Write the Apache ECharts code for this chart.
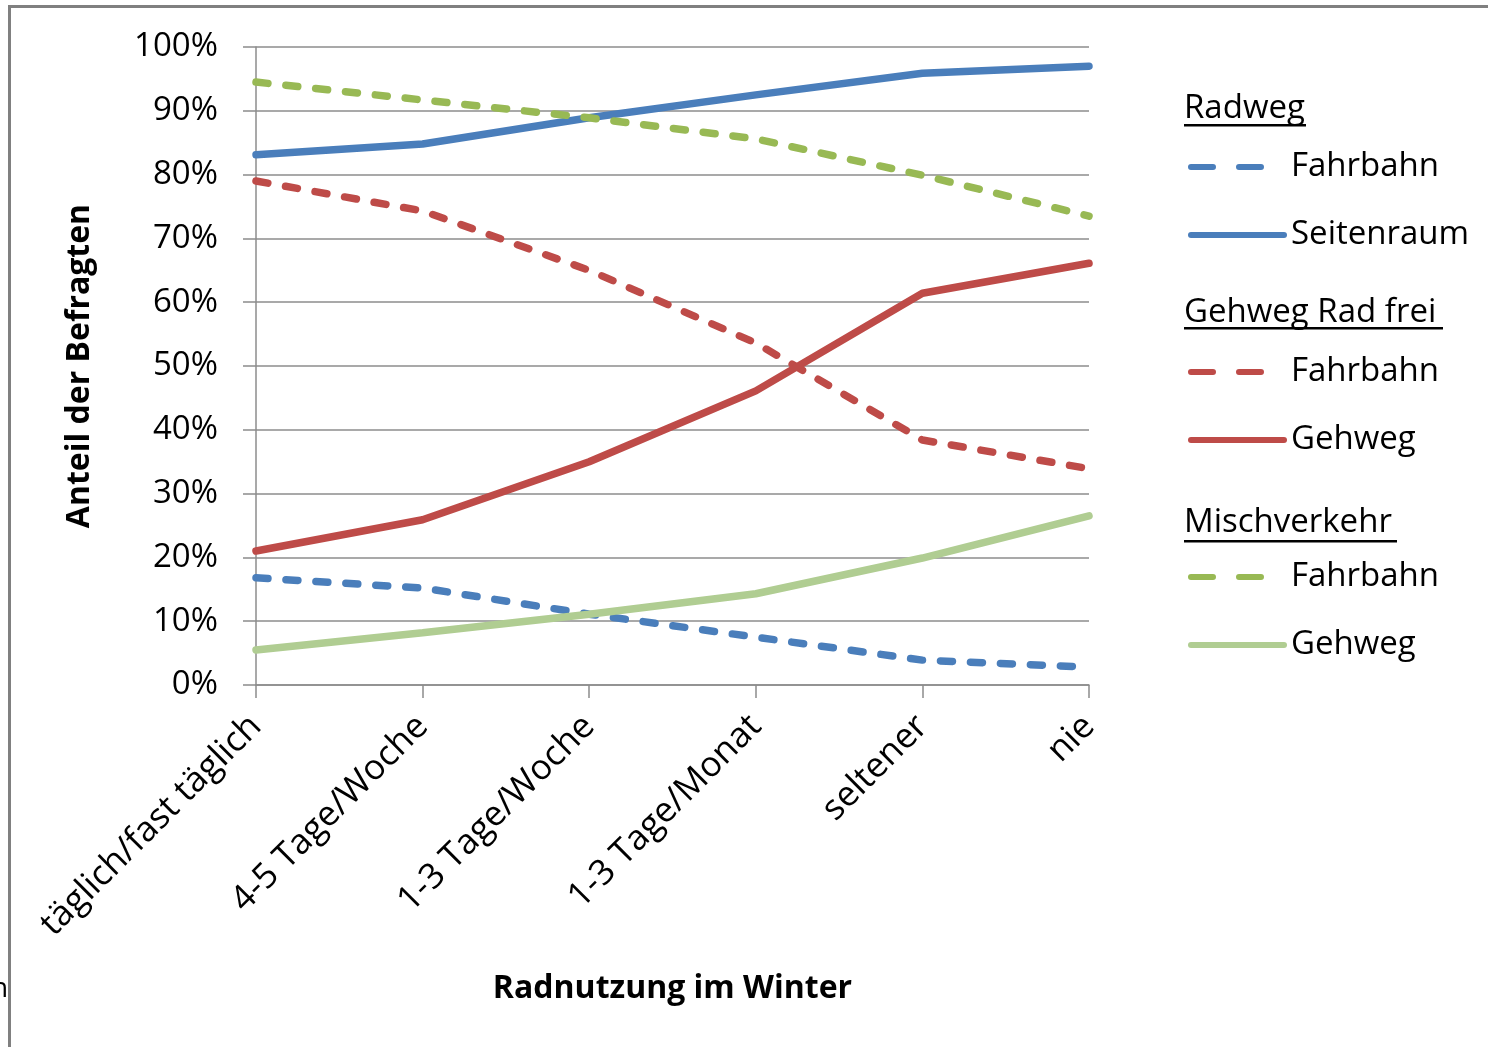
<!DOCTYPE html>
<html>
<head>
<meta charset="utf-8">
<script src="https://cdn.jsdelivr.net/npm/echarts@6/dist/echarts.min.js"></script>
<style>
  html, body { margin: 0; padding: 0; background: #fff; }
  #main { width: 1488px; height: 1047px; }
</style>
</head>
<body>
<div id="main"></div>
<script>
// Kategorien (x-Achse)
var categories = ['täglich/fast täglich', '4-5 Tage/Woche', '1-3 Tage/Woche', '1-3 Tage/Monat', 'seltener', 'nie']
var yTicks = [0, 10, 20, 30, 40, 50, 60, 70, 80, 90, 100]

// Werte in %
var radwegFahrbahn = [16.8, 15.2, 11.1, 7.5, 3.9, 2.8]
var radwegSeitenraum = [83.1, 84.8, 88.9, 92.5, 95.9, 97.0]
var gehwegFahrbahn = [79.0, 74.3, 65.0, 53.6, 38.4, 33.9]
var gehwegGehweg = [21.0, 25.9, 35.0, 46.1, 61.4, 66.1]
var mischFahrbahn = [94.5, 91.7, 88.9, 85.6, 79.9, 73.5]
var mischGehweg = [5.5, 8.2, 11.1, 14.3, 19.9, 26.5]

var FONT = '"Open Sans", "Noto Sans", sans-serif'
var blue = '#4a7ebb'
var red = '#be4b48'
var green = '#98b954'
var lightGreen = '#b0cd92'

function line(name, data, color, dashed) {
  return {
    name: name,
    type: 'line',
    data: data,
    symbol: 'none',
    lineStyle: { color: color, width: 7.5, type: dashed ? [12, 18] : 'solid', cap: 'round' },
    itemStyle: { color: color },
    emphasis: { disabled: true }
  }
}

function legendBlock(names, top) {
  return {
    orient: 'vertical',
    left: 1188,
    top: top,
    padding: 0,
    itemWidth: 93,
    itemHeight: 14,
    itemGap: 28,
    selectedMode: false,
    itemStyle: { opacity: 0 },
    textStyle: { fontFamily: FONT, fontSize: 33, color: '#000', lineHeight: 40, padding: [0, 0, 0, 2] },
    formatter: function (n) { return n.split('|')[1] },
    data: names.map(function (n) {
      var dashed = n.indexOf('Fahrbahn') >= 0
      return { name: n, lineStyle: { width: 6, cap: 'round', type: dashed ? [22, 26] : 'solid' } }
    })
  }
}

function header(text, x, y, lineY, w) {
  return [
    { type: 'text', left: x, top: y, style: { text: text, font: '33px ' + FONT, fill: '#000' } },
    { type: 'rect', shape: { x: x, y: lineY, width: w, height: 2.5 }, style: { fill: '#000' } }
  ]
}

var chart = echarts.init(document.getElementById('main'))
chart.setOption({
  animation: false,
  backgroundColor: '#fff',
  grid: { left: 256, right: 399, top: 47, bottom: 362 },
  xAxis: {
    type: 'category',
    data: categories,
    boundaryGap: false,
    name: 'Radnutzung im Winter',
    nameLocation: 'middle',
    nameGap: 288,
    nameTextStyle: { fontFamily: FONT, fontSize: 32, fontWeight: 'bold', color: '#000' },
    axisLine: { lineStyle: { color: '#8c8c8c', width: 1.5 } },
    axisTick: { show: true, length: 13, alignWithLabel: true, lineStyle: { color: '#8c8c8c', width: 1.5 } },
    axisLabel: { rotate: 45, margin: 36, fontFamily: FONT, fontSize: 35, color: '#000' }
  },
  yAxis: {
    type: 'value',
    min: 0,
    max: 100,
    interval: 10,
    name: 'Anteil der Befragten',
    nameLocation: 'middle',
    nameGap: 160,
    nameTextStyle: { fontFamily: FONT, fontSize: 32, fontWeight: 'bold', color: '#000' },
    axisLine: { show: true, lineStyle: { color: '#8c8c8c', width: 1.5 } },
    axisTick: { show: true, length: 13, lineStyle: { color: '#8c8c8c', width: 1.5 } },
    splitLine: { lineStyle: { color: '#8c8c8c', width: 1.5 } },
    axisLabel: {
      margin: 38,
      fontFamily: FONT,
      fontSize: 33,
      color: '#000',
      padding: [8, 0, 0, 0],
      formatter: function (v) { return yTicks.indexOf(v) >= 0 ? v + '%' : '' }
    }
  },
  legend: [
    legendBlock(['Radweg|Fahrbahn', 'Radweg|Seitenraum'], 147),
    legendBlock(['Gehweg Rad frei|Fahrbahn', 'Gehweg Rad frei|Gehweg'], 352),
    legendBlock(['Mischverkehr|Fahrbahn', 'Mischverkehr|Gehweg'], 557)
  ],
  graphic: [
    { type: 'rect', shape: { x: 8, y: 5, width: 1480, height: 3 }, style: { fill: '#808080' } },
    { type: 'rect', shape: { x: 8, y: 5, width: 3, height: 1042 }, style: { fill: '#808080' } },
    { type: 'text', left: -9, top: 975, style: { text: 'n', font: '28px ' + FONT, fill: '#000' } }
  ]
    .concat(header('Radweg', 1184, 92, 124, 122))
    .concat(header('Gehweg Rad frei', 1184, 296, 327, 259))
    .concat(header('Mischverkehr', 1184, 506, 540, 213)),
  series: [
    line('Radweg|Fahrbahn', radwegFahrbahn, blue, true),
    line('Radweg|Seitenraum', radwegSeitenraum, blue, false),
    line('Gehweg Rad frei|Fahrbahn', gehwegFahrbahn, red, true),
    line('Gehweg Rad frei|Gehweg', gehwegGehweg, red, false),
    line('Mischverkehr|Fahrbahn', mischFahrbahn, green, true),
    line('Mischverkehr|Gehweg', mischGehweg, lightGreen, false)
  ]
})
</script>
</body>
</html>
